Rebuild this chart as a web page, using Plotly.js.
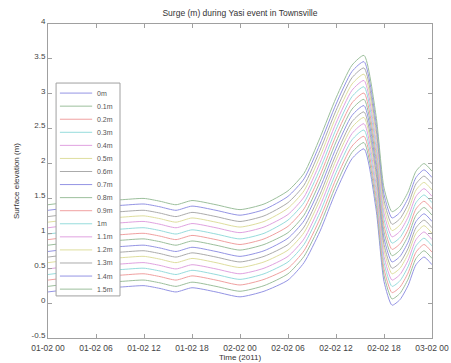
<!DOCTYPE html>
<html><head><meta charset="utf-8">
<script src="https://cdn.plot.ly/plotly-3.0.1.min.js"></script>
<style>html,body{margin:0;padding:0;background:#fff;}#chart{width:451px;height:363px;}</style>
</head><body><div id="chart"></div>
<script>
var times = ['2011-02-01 00:00','2011-02-01 03:00','2011-02-01 06:00','2011-02-01 09:00','2011-02-01 12:00','2011-02-01 14:00','2011-02-01 16:00','2011-02-01 18:00','2011-02-01 21:00','2011-02-02 00:00','2011-02-02 03:00','2011-02-02 06:00','2011-02-02 08:00','2011-02-02 10:00','2011-02-02 12:00','2011-02-02 14:00','2011-02-02 15:30','2011-02-02 17:00','2011-02-02 18:00','2011-02-02 19:00','2011-02-02 20:00','2011-02-02 21:00','2011-02-02 22:00','2011-02-02 23:00','2011-02-03 00:00'];
var seriesNames = ['0m','0.1m','0.2m','0.3m','0.4m','0.5m','0.6m','0.7m','0.8m','0.9m','1m','1.1m','1.2m','1.3m','1.4m','1.5m'];
var s00 = [0.16,0.20,0.22,0.23,0.25,0.21,0.16,0.22,0.16,0.09,0.17,0.33,0.58,1.03,1.60,2.07,2.21,1.35,0.31,-0.03,0.05,0.25,0.55,0.66,0.55];
var s01 = [0.24,0.28,0.30,0.31,0.33,0.29,0.24,0.30,0.24,0.17,0.25,0.42,0.67,1.12,1.69,2.16,2.30,1.44,0.40,0.06,0.14,0.34,0.64,0.75,0.64];
var s02 = [0.33,0.37,0.39,0.40,0.42,0.38,0.33,0.39,0.33,0.26,0.34,0.50,0.75,1.21,1.78,2.25,2.39,1.53,0.49,0.15,0.23,0.43,0.73,0.84,0.73];
var s03 = [0.41,0.45,0.47,0.48,0.50,0.46,0.41,0.47,0.41,0.34,0.42,0.59,0.84,1.30,1.87,2.34,2.48,1.62,0.58,0.24,0.32,0.52,0.82,0.93,0.82];
var s04 = [0.49,0.53,0.55,0.56,0.58,0.54,0.49,0.55,0.49,0.42,0.50,0.67,0.92,1.39,1.96,2.43,2.57,1.71,0.67,0.33,0.41,0.61,0.91,1.02,0.91];
var s05 = [0.58,0.62,0.64,0.65,0.67,0.63,0.58,0.64,0.58,0.51,0.59,0.76,1.01,1.48,2.05,2.52,2.66,1.80,0.76,0.42,0.50,0.70,1.00,1.11,1.00];
var s06 = [0.66,0.70,0.72,0.73,0.75,0.71,0.66,0.72,0.66,0.59,0.67,0.84,1.09,1.56,2.13,2.60,2.74,1.88,0.84,0.50,0.58,0.78,1.08,1.19,1.08];
var s07 = [0.74,0.78,0.80,0.81,0.83,0.79,0.74,0.80,0.74,0.67,0.75,0.93,1.18,1.65,2.22,2.69,2.83,1.97,0.93,0.59,0.67,0.87,1.17,1.28,1.17];
var s08 = [0.83,0.87,0.89,0.90,0.92,0.88,0.83,0.89,0.83,0.76,0.84,1.01,1.26,1.74,2.31,2.78,2.92,2.06,1.02,0.68,0.76,0.96,1.26,1.37,1.26];
var s09 = [0.91,0.95,0.97,0.98,1.00,0.96,0.91,0.97,0.91,0.84,0.92,1.10,1.35,1.83,2.40,2.87,3.01,2.15,1.11,0.77,0.85,1.05,1.35,1.46,1.35];
var s10 = [0.99,1.03,1.05,1.06,1.08,1.04,0.99,1.05,0.99,0.92,1.00,1.19,1.44,1.92,2.49,2.96,3.10,2.24,1.20,0.86,0.94,1.14,1.44,1.55,1.44];
var s11 = [1.08,1.12,1.14,1.15,1.17,1.13,1.08,1.14,1.08,1.01,1.09,1.27,1.52,2.01,2.58,3.05,3.19,2.33,1.29,0.95,1.03,1.23,1.53,1.64,1.53];
var s12 = [1.16,1.20,1.22,1.23,1.25,1.21,1.16,1.22,1.16,1.09,1.17,1.36,1.61,2.10,2.67,3.14,3.28,2.42,1.38,1.04,1.12,1.32,1.62,1.73,1.62];
var s13 = [1.24,1.28,1.30,1.31,1.33,1.29,1.24,1.30,1.24,1.17,1.25,1.44,1.69,2.19,2.76,3.23,3.37,2.51,1.47,1.13,1.21,1.41,1.71,1.82,1.71];
var s14 = [1.33,1.37,1.39,1.40,1.42,1.38,1.33,1.39,1.33,1.26,1.34,1.53,1.78,2.28,2.85,3.32,3.46,2.60,1.56,1.22,1.30,1.50,1.80,1.91,1.80];
var s15 = [1.41,1.45,1.47,1.48,1.50,1.46,1.41,1.47,1.41,1.34,1.42,1.61,1.86,2.37,2.94,3.41,3.55,2.69,1.65,1.31,1.39,1.59,1.89,2.00,1.89];
var seriesValues = [s00,s01,s02,s03,s04,s05,s06,s07,s08,s09,s10,s11,s12,s13,s14,s15];
var palette = ['#9494e4','#9cbf9c','#f0a0a0','#96dcdc','#e0a2e0','#dede9e','#ababab'];
var yTicks = [-0.5,0,0.5,1,1.5,2,2.5,3,3.5,4];
var yTickText = ['-0.5','0','0.5','1','1.5','2','2.5','3','3.5','4'];
var FONT = 'Liberation Sans, Arial, sans-serif';

var traces = seriesValues.map(function(v,i){
  return {x: times, y: v, type:'scatter', mode:'lines', name: seriesNames[i],
    line:{color: palette[i%7], width:1, shape:'spline', smoothing:0.6}, showlegend:false, hoverinfo:'skip'};
});

// custom legend (box, line samples, labels) in paper coordinates
var shapes = [];
var annotations = [];
var lx0 = 0.021, lx1 = 0.1875, ly0 = 0.134, ly1 = 0.812;
shapes.push({type:'rect', xref:'paper', yref:'paper', x0:lx0, x1:lx1, y0:ly0, y1:ly1, line:{color:'#a0a0a0', width:1}, fillcolor:'rgba(255,255,255,1)', layer:'above'});
var topY = 0.780, stepY = 13.07/314;
seriesNames.forEach(function(n,i){
  var yy = topY - i*stepY;
  shapes.push({type:'line', xref:'paper', yref:'paper', x0:0.031, x1:0.115, y0:yy, y1:yy, line:{color: palette[i%7], width:1}, layer:'above'});
  annotations.push({xref:'paper', yref:'paper', x:0.122, y:yy, xanchor:'left', yanchor:'middle', text:n, showarrow:false, font:{family:FONT, size:7, color:'#555'}});
});

var axisCommon = {showline:true, linecolor:'#a0a0a0', linewidth:1, mirror:'ticks', ticks:'inside', ticklen:4, tickcolor:'#a0a0a0', showgrid:false, zeroline:false};

var layout = {
  width:451, height:363,
  margin:{l:48, r:19, t:24, b:25},
  paper_bgcolor:'#fff', plot_bgcolor:'#fff',
  title:{text:'Surge (m) during Yasi event in Townsville', font:{family:FONT, size:8.5, color:'#333'}, x:0.532, xanchor:'center', y:0.965, yanchor:'middle'},
  xaxis: Object.assign({}, axisCommon, {type:'date', range:['2011-02-01 00:00','2011-02-03 00:00'], dtick:21600000, tick0:'2011-02-01 00:00', tickformat:'%d-%m %H',
    ticklabelstandoff:2, tickfont:{family:FONT, size:8.5, color:'#444'},
    title:{text:'Time (2011)', font:{family:FONT, size:8, color:'#333'}, standoff:0}}),
  yaxis: Object.assign({}, axisCommon, {range:[-0.5,4], tickvals:yTicks, ticktext:yTickText, ticklabelshift:-3,
    tickfont:{family:FONT, size:8, color:'#444'},
    title:{text:'Surface elevation (m)', font:{family:FONT, size:8, color:'#333'}, standoff:10}}),
  shapes: shapes,
  annotations: annotations,
  showlegend:false
};
Plotly.newPlot('chart', traces, layout, {displayModeBar:false, staticPlot:true});
</script>
</body></html>
